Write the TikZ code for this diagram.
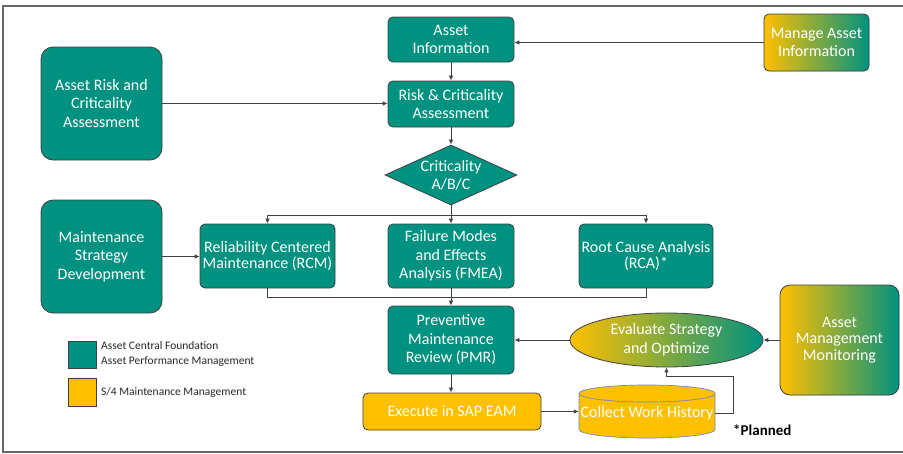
\documentclass[tikz,border=0pt]{standalone}
\usepackage{fontspec}
\setmainfont{Carlito}
\usetikzlibrary{shapes.geometric,arrows.meta}
\definecolor{myteal}{RGB}{0,146,128}
\definecolor{myyellow}{RGB}{255,192,0}
\definecolor{edgecol}{RGB}{64,64,64}
\definecolor{cylline}{RGB}{110,140,180}
\begin{document}
\begin{tikzpicture}[x=1pt,y=-1pt,
  box/.style={rectangle, rounded corners=5pt, draw=edgecol, line width=0.8pt, fill=myteal,
    text=white, inner sep=0pt, align=center, font=\fontsize{16}{18.5}\selectfont},
  ybox/.style={box, fill=myyellow},
  gbox/.style={box, left color=myyellow, right color=myteal},
  tight/.style={font=\fontsize{16}{16.5}\selectfont},
  conn/.style={draw=edgecol, line width=0.9pt},
  arr/.style={conn, -{Latex[length=5pt,width=4.5pt]}},
  legtext/.style={anchor=west, inner sep=0pt, text=black!85, align=left, font=\fontsize{11.5}{15}\selectfont}
]
\useasboundingbox (0,0) rectangle (903,453);
\draw[black!60, line width=1.5pt] (903,6) -- (3,6) -- (3,452) -- (903,452);

% nodes
\node[box, minimum width=126pt, minimum height=45pt] (ai) at (451,39.5) {Asset\\Information};
\node[gbox, minimum width=105pt, minimum height=57pt] (mai) at (816.5,42.5) {Manage Asset\\Information};
\node[box, rounded corners=12pt, minimum width=121pt, minimum height=113pt] (arca) at (101.5,103.5) {Asset Risk and\\Criticality\\Assessment};
\node[box, minimum width=126pt, minimum height=46pt] (risk) at (451,104) {Risk \& Criticality\\Assessment};
\node[diamond, draw=edgecol, line width=0.8pt, fill=myteal, aspect=2.2, inner sep=0pt,
  minimum width=132pt, minimum height=60pt] (crit) at (451,175) {};
\node[text=white, align=center, font=\fontsize{16}{18}\selectfont] (critlabel) at (crit) {Criticality\\A/B/C};
\node[box, rounded corners=12pt, minimum width=121pt, minimum height=113pt] (msd) at (101.5,256.5) {Maintenance\\Strategy\\Development};
\node[box, tight, minimum width=135pt, minimum height=64pt] (rcm) at (267.5,256) {Reliability Centered\\Maintenance (RCM)};
\node[box, minimum width=126pt, minimum height=64pt] (fmea) at (451,256) {Failure Modes\\and Effects\\Analysis (FMEA)};
\node[box, tight, minimum width=134pt, minimum height=64pt] (rca) at (646,256) {Root Cause Analysis\\(RCA)*};
\node[box, minimum width=126pt, minimum height=68pt] (pmr) at (451,340) {Preventive\\Maintenance\\Review (PMR)};
\node[ybox, minimum width=178pt, minimum height=37pt] (exe) at (452,411.5) {Execute in SAP EAM};
\node[ellipse, draw=edgecol, line width=0.8pt, left color=myyellow, right color=myteal, inner sep=0pt,
  minimum width=193pt, minimum height=54pt, text=white, align=center,
  font=\fontsize{16}{19}\selectfont] (eval) at (666.5,340) {Evaluate Strategy\\and Optimize};
\node[gbox, tight, rounded corners=10pt, minimum width=119pt, minimum height=110pt] (amm) at (839.5,340) {Asset\\Management\\Monitoring};

% cylinder
\fill[myyellow] (579,393.5) -- (579,429.5) arc (180:360:68pt and 8.5pt) -- (715,393.5) arc (0:180:68pt and 8.5pt) -- cycle;
\draw[cylline, line width=0.7pt] (579,393.5) -- (579,429.5) arc (180:360:68pt and 8.5pt) -- (715,393.5);
\draw[cylline, line width=0.7pt] (647,393.5) ellipse [x radius=68pt, y radius=8.5pt];
\node[text=white, inner sep=0pt, minimum width=136pt, minimum height=36pt,
  font=\fontsize{16}{18.5}\selectfont] (coll) at (647,413) {Collect Work History};

\node[anchor=west, inner sep=0pt, text=black, font=\bfseries\fontsize{15}{18}\selectfont] (planned) at (733,430) {*Planned};

% legend
\node[rectangle, draw=edgecol, line width=0.8pt, fill=myteal, minimum width=28pt, minimum height=27pt, inner sep=0pt] (legteal) at (82,354.5) {};
\node[rectangle, draw=edgecol, line width=0.8pt, fill=myyellow, minimum width=28pt, minimum height=28pt, inner sep=0pt] (legyellow) at (82,392) {};
\node[legtext] (legt1) at (101,354) {Asset Central Foundation\\Asset Performance Management};
\node[legtext] (legt2) at (101,392) {S/4 Maintenance Management};

% connectors
\coordinate (split) at (451,215);
\coordinate (join) at (451,297);
\coordinate (loop) at (733,376);
\draw[arr] (mai.west) -- (mai.west -| ai.east);
\draw[arr] (ai.south) -- (risk.north);
\draw[arr] (arca.east) -- (arca.east -| risk.west);
\draw[arr] (risk.south) -- (crit.north);
\draw[arr] (crit.south) -- (fmea.north);
\draw[conn] (rcm.north |- split) -- (rca.north |- split);
\draw[arr] (rcm.north |- split) -- (rcm.north);
\draw[arr] (rca.north |- split) -- (rca.north);
\draw[arr] (msd.east) -- (msd.east -| rcm.west);
\draw[conn] (rcm.south) -- (rcm.south |- join) -- (rca.south |- join) -- (rca.south);
\draw[arr] (fmea.south) -- (pmr.north);
\draw[arr] (pmr.south) -- (pmr.south |- exe.north);
\draw[arr] (exe.east) -- (exe.east -| coll.west);
\draw[arr] (coll.east) -- (coll.east -| loop) -- (loop) -- (loop -| eval.south) -- (eval.south);
\draw[arr] (eval.west) -- (eval.west -| pmr.east);
\draw[arr] (amm.west) -- (amm.west -| eval.east);
\end{tikzpicture}
\end{document}
